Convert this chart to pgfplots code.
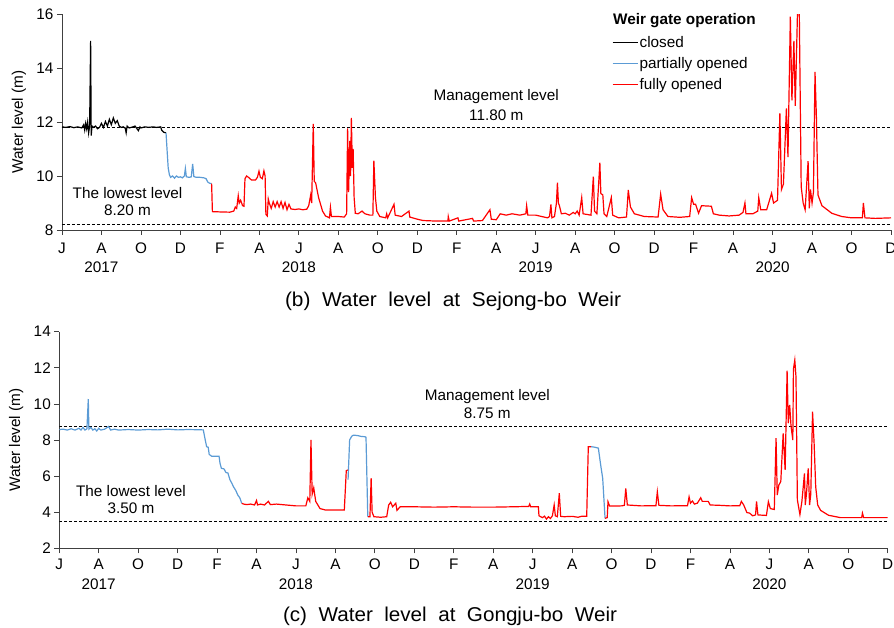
\documentclass[border=0pt]{standalone}
\usepackage{fontspec}
\setmainfont{Liberation Sans}
\usepackage{graphicx}
\usepackage{pgfplots}
\pgfplotsset{compat=1.18}
\definecolor{wblue}{RGB}{91,155,213}
\definecolor{wred}{RGB}{255,0,0}
\newcommand\ff{\fontsize{15.3}{18}\selectfont}
\pgfplotsset{
  myaxis/.style={
    scale only axis,
    xmin=0, xmax=42,
    clip mode=individual,
    axis x line*=bottom, axis y line*=left,
    axis line style={-, black!75, line width=0.8pt},
    xtick={0,2,...,42},
    xticklabels={J,A,O,D,F,A,J,A,O,D,F,A,J,A,O,D,F,A,J,A,O,D},
    tick align=outside, major tick length=5pt,
    tick style={black!75, line width=0.8pt},
    /pgf/number format/assume math mode=true,
    tick label style={font=\ff, text=black},
    ylabel={Water level (m)},
    every axis y label/.style={at={(axis description cs:-0.052,0.5)}, rotate=90, anchor=center},
    label style={font=\ff, text=black},
  },
  mgmt/.style={black, line width=1pt, dash pattern=on 3pt off 2pt, forget plot},
}
\begin{document}
\begin{tikzpicture}
\path[use as bounding box] (0,0) rectangle (894pt,627pt);
% ---------------- (b) Sejong-bo
\begin{axis}[myaxis,
  at={(62pt,397pt)}, anchor=south west, width=829pt, height=216pt,
  ymin=8, ymax=16, ytick={8,10,...,16},
  xticklabel style={yshift=-4pt},
  legend style={at={(axis cs:27.85,15.23)}, anchor=north west, draw=none, fill=none,
    font=\ff, row sep=6pt, inner sep=0pt, nodes={inner sep=1.2pt}},
  legend cell align=left,
  legend image code/.code={\draw[#1, line width=1.5pt] (0pt,0pt) -- (25pt,0pt);},
]
\addplot[mgmt] coordinates {(0,11.8) (42,11.8)};
\addplot[mgmt] coordinates {(0,8.2) (42,8.2)};
\addplot[black, line width=1.2pt] coordinates {
(0,11.82) (0.2,11.8) (0.4,11.83) (0.6,11.79) (0.8,11.82) (1.0,11.78) (1.1,11.9) (1.15,11.7) (1.2,11.95) (1.25,11.75) (1.3,12.0) (1.35,11.6) (1.4,11.85) (1.45,15.0) (1.48,11.5) (1.52,11.85) (1.6,11.8) (1.7,11.85) (1.8,11.75) (1.9,11.8) (2.0,11.95) (2.1,11.8) (2.2,12.02) (2.3,11.85) (2.4,12.1) (2.5,11.9) (2.6,12.15) (2.7,11.95) (2.8,12.05) (2.9,11.85) (3.0,11.8) (3.1,11.82) (3.2,11.78) (3.25,11.6) (3.3,11.85) (3.4,11.78) (3.5,11.8) (3.6,11.82) (3.7,11.85) (3.8,11.75) (3.87,11.68) (3.95,11.82) (4.0,11.78) (4.1,11.8) (4.2,11.82) (4.4,11.8) (4.6,11.82) (4.8,11.8) (5.0,11.82) (5.05,11.7) (5.15,11.62) (5.27,11.6)};
\addlegendentry{closed}
\addplot[wblue, line width=1.2pt] coordinates {
(5.27,11.6) (5.32,11.0) (5.38,10.3) (5.44,10.05) (5.5,9.95) (5.6,10.0) (5.7,9.92) (5.8,10.0) (5.9,9.95) (6.0,9.97) (6.1,9.93) (6.2,10.0) (6.25,10.28) (6.3,9.97) (6.45,9.95) (6.55,9.97) (6.62,10.45) (6.68,9.98) (6.8,9.95) (7.0,9.95) (7.2,9.93) (7.3,9.9) (7.38,9.78) (7.48,9.73) (7.58,9.72)};
\addlegendentry{partially opened}
\addplot[wred, line width=1.2pt] coordinates {
(7.58,9.72) (7.62,8.68) (8.0,8.67) (8.5,8.66) (8.7,8.7) (8.78,8.85) (8.85,8.8) (8.93,9.27) (8.98,9.0) (9.05,9.1) (9.15,8.9) (9.22,8.88) (9.27,9.9) (9.35,10.0) (9.45,9.95) (9.6,9.85) (9.8,9.85) (9.9,9.95) (9.98,10.18) (10.05,9.95) (10.15,9.9) (10.23,10.19) (10.29,10.0) (10.33,8.58) (10.4,8.52) (10.45,9.15) (10.5,9.0) (10.6,8.8) (10.7,9.05) (10.8,8.85) (10.9,9.05) (11.0,8.85) (11.1,9.05) (11.2,8.8) (11.3,9.02) (11.4,8.75) (11.5,8.95) (11.6,8.78) (11.8,8.76) (12.0,8.78) (12.2,8.75) (12.4,8.77) (12.5,8.9) (12.6,9.3) (12.65,9.0) (12.73,11.93) (12.78,9.8) (12.85,9.75) (13.0,9.2) (13.2,8.7) (13.35,8.52) (13.55,8.45) (13.6,8.84) (13.65,8.5) (14.0,8.5) (14.3,8.48) (14.42,8.6) (14.47,11.76) (14.52,9.4) (14.58,11.3) (14.62,10.0) (14.66,12.15) (14.71,10.3) (14.75,11.0) (14.8,9.2) (14.86,8.62) (15.0,8.6) (15.2,8.7) (15.35,8.6) (15.6,8.55) (15.75,8.55) (15.8,10.57) (15.88,9.2) (15.95,8.7) (16.1,8.5) (16.4,8.45) (16.45,8.6) (16.5,8.45) (16.82,8.95) (16.88,8.55) (17.2,8.5) (17.58,8.7) (17.62,8.48) (18.0,8.4) (18.3,8.35) (19.0,8.33) (19.55,8.33) (19.57,8.5) (19.62,8.33) (20.06,8.45) (20.1,8.33) (20.8,8.43) (20.85,8.33) (21.3,8.35) (21.68,8.75) (21.75,8.4) (22.0,8.38) (22.2,8.6) (22.5,8.55) (22.8,8.6) (23.2,8.55) (23.5,8.6) (23.54,8.9) (23.6,8.55) (24.0,8.55) (24.3,8.5) (24.6,8.45) (24.7,8.5) (24.77,8.95) (24.82,8.45) (24.95,8.5) (25.05,9.0) (25.1,9.75) (25.15,9.0) (25.2,8.9) (25.3,8.6) (25.5,8.62) (25.7,8.55) (25.9,8.65) (26.0,8.6) (26.1,8.7) (26.2,8.55) (26.33,9.2) (26.4,8.6) (26.8,8.55) (26.92,9.98) (26.98,8.7) (27.1,8.6) (27.25,10.49) (27.3,9.35) (27.4,9.3) (27.46,8.6) (27.6,8.5) (27.83,9.2) (27.9,8.55) (28.2,8.45) (28.6,8.48) (28.69,9.48) (28.8,8.85) (29.0,8.6) (29.5,8.5) (30.2,8.48) (30.33,9.33) (30.45,8.75) (30.7,8.5) (31.3,8.47) (31.8,8.5) (31.9,9.2) (32.0,8.95) (32.1,8.95) (32.25,8.62) (32.4,8.9) (32.9,8.88) (33.0,8.6) (33.3,8.55) (33.8,8.52) (34.3,8.55) (34.5,8.65) (34.6,9.0) (34.65,8.6) (35.0,8.6) (35.25,8.7) (35.3,9.2) (35.4,8.75) (35.7,8.75) (35.95,9.36) (36.05,9.0) (36.25,9.1) (36.37,12.33) (36.45,9.5) (36.55,9.7) (36.7,12.5) (36.78,10.7) (36.9,15.9) (36.98,12.8) (37.08,15.0) (37.15,12.6) (37.27,16.3) (37.35,16.3) (37.45,9.6) (37.55,9.0) (37.65,8.75) (37.8,10.55) (37.86,8.8) (37.92,9.5) (38.0,9.0) (38.07,9.4) (38.15,13.86) (38.22,12.2) (38.3,9.3) (38.5,8.9) (39.0,8.62) (39.5,8.5) (40.0,8.45) (40.55,8.45) (40.6,9.0) (40.68,8.45) (41.2,8.43) (42.0,8.45)};
\addlegendentry{fully opened}
\node[anchor=west, font=\ff\bfseries, inner sep=0pt] at (axis cs:27.91,15.75) {Weir gate operation};
\node[font=\ff] at (axis cs:22,12.94) {Management level};
\node[font=\ff] at (axis cs:22,12.26) {11.80 m};
\node[font=\ff] at (axis cs:3.32,9.36) {The lowest level};
\node[font=\ff] at (axis cs:3.32,8.74) {8.20 m};
\node[font=\ff, anchor=base] at (axis cs:2,8) [yshift=-43pt] {2017};
\node[font=\ff, anchor=base] at (axis cs:12,8) [yshift=-43pt] {2018};
\node[font=\ff, anchor=base] at (axis cs:24,8) [yshift=-43pt] {2019};
\node[font=\ff, anchor=base] at (axis cs:36,8) [yshift=-43pt] {2020};
\end{axis}
% ---------------- (c) Gongju-bo
\begin{axis}[myaxis,
  at={(59.3pt,78.7pt)}, anchor=south west, width=828.4pt, height=216.6pt,
  ymin=2, ymax=14, ytick={2,4,...,14},
  xticklabel style={yshift=-2pt},
]
\addplot[mgmt] coordinates {(0,8.75) (42,8.75)};
\addplot[mgmt] coordinates {(0,3.5) (42,3.5)};
\addplot[wblue, line width=1.2pt] coordinates {
(0,8.58) (0.2,8.6) (0.4,8.55) (0.6,8.62) (0.8,8.55) (1.0,8.65) (1.1,8.55) (1.2,8.7) (1.3,8.55) (1.4,8.62) (1.47,10.27) (1.5,8.6) (1.6,8.7) (1.7,8.55) (1.8,8.62) (1.9,8.5) (2.0,8.65) (2.1,8.55) (2.3,8.6) (2.5,8.75) (2.6,8.55) (2.8,8.6) (3.0,8.55) (3.5,8.58) (4.0,8.55) (4.5,8.58) (5.0,8.56) (5.5,8.6) (6.0,8.56) (6.5,8.58) (7.0,8.57) (7.3,8.56) (7.4,8.0) (7.47,7.63) (7.55,7.6) (7.6,7.2) (7.73,7.1) (8.1,7.1) (8.15,6.7) (8.22,6.43) (8.35,6.4) (8.45,6.2) (8.55,6.17) (8.65,5.8) (8.75,5.6) (8.83,5.41) (8.95,5.2) (9.05,4.95) (9.15,4.8) (9.25,4.49)};
\addplot[wred, line width=1.2pt] coordinates {
(9.25,4.49) (9.35,4.45) (9.5,4.42) (9.7,4.45) (9.9,4.4) (10.0,4.65) (10.05,4.4) (10.2,4.45) (10.4,4.4) (10.6,4.6) (10.7,4.42) (11.0,4.45) (11.5,4.4) (12.0,4.35) (12.5,4.35) (12.6,4.8) (12.7,4.6) (12.76,8.0) (12.82,5.0) (12.9,5.35) (13.0,4.6) (13.22,4.2) (13.5,4.12) (14.0,4.12) (14.45,4.12) (14.55,6.3) (14.64,6.34)};
\addplot[wblue, line width=1.2pt] coordinates {
(14.64,5.8) (14.72,8.0) (14.82,8.2) (14.91,8.27) (15.1,8.25) (15.3,8.2) (15.5,8.18) (15.55,8.15) (15.64,3.75)};
\addplot[wred, line width=1.2pt] coordinates {
(15.64,3.75) (15.75,3.75) (15.81,5.88) (15.86,4.0) (15.95,3.75) (16.3,3.72) (16.6,3.75) (16.7,4.4) (16.8,4.55) (16.9,4.3) (17.06,4.5) (17.12,4.1) (17.28,4.3) (17.5,4.3) (18,4.3) (19,4.28) (20,4.3) (21,4.28) (22.0,4.28) (23.0,4.3) (23.8,4.32) (23.85,4.45) (23.9,4.3) (24.29,4.3) (24.32,3.8) (24.5,3.7) (24.6,3.78) (24.7,3.62) (24.8,3.75) (24.9,3.65) (25.0,3.8) (25.09,4.4) (25.15,3.8) (25.25,3.75) (25.35,5.05) (25.42,3.77) (25.6,3.75) (26.0,3.77) (26.3,3.72) (26.5,3.78) (26.74,3.77) (26.82,7.63) (26.96,7.63)};
\addplot[wblue, line width=1.2pt] coordinates {
(26.96,7.63) (27.15,7.6) (27.33,7.55) (27.45,6.6) (27.55,5.88) (27.67,3.66)};
\addplot[wred, line width=1.2pt] coordinates {
(27.67,3.66) (27.78,3.7) (27.82,4.58) (27.9,4.34) (28.5,4.35) (28.65,4.38) (28.72,5.32) (28.8,4.4) (29.5,4.35) (30.25,4.36) (30.32,5.13) (30.4,4.38) (31.0,4.35) (31.85,4.36) (31.93,4.85) (32.0,4.5) (32.1,4.62) (32.2,4.45) (32.35,4.5) (32.52,4.8) (32.6,4.6) (32.9,4.6) (33.0,4.4) (33.5,4.38) (34.0,4.35) (34.5,4.36) (34.58,4.6) (34.7,4.4) (34.86,3.98) (35.0,3.95) (35.15,3.8) (35.3,3.85) (35.35,4.6) (35.42,3.85) (35.85,3.82) (35.95,4.58) (36.05,4.2) (36.25,4.15) (36.34,8.1) (36.4,4.95) (36.48,5.5) (36.58,5.7) (36.7,8.37) (36.8,6.34) (36.9,11.84) (36.96,8.93) (37.03,9.94) (37.1,8.75) (37.19,8.0) (37.22,11.92) (37.29,12.43) (37.35,11.5) (37.42,4.68) (37.55,3.87) (37.65,4.6) (37.78,6.15) (37.82,4.4) (37.88,5.0) (37.97,6.43) (38.04,4.4) (38.1,5.0) (38.19,9.57) (38.27,7.8) (38.35,5.4) (38.45,4.4) (38.6,4.1) (39.0,3.83) (39.6,3.7) (40.68,3.7) (40.72,3.95) (40.78,3.7) (42.0,3.7)};
\node[font=\ff] at (axis cs:21.7,10.4) {Management level};
\node[font=\ff] at (axis cs:21.7,9.48) {8.75 m};
\node[font=\ff] at (axis cs:3.63,5.17) {The lowest level};
\node[font=\ff] at (axis cs:3.63,4.22) {3.50 m};
\node[font=\ff, anchor=base] at (axis cs:2,2) [yshift=-41pt] {2017};
\node[font=\ff, anchor=base] at (axis cs:12,2) [yshift=-41pt] {2018};
\node[font=\ff, anchor=base] at (axis cs:24,2) [yshift=-41pt] {2019};
\node[font=\ff, anchor=base] at (axis cs:36,2) [yshift=-41pt] {2020};
\end{axis}
\node[anchor=base, inner sep=0pt] at (453pt,320.3pt) {\resizebox{336pt}{\height}{\fontsize{20}{24}\selectfont (b)\ \ Water\ \ level\ \ at\ \ Sejong-bo\ \ Weir}};
\node[anchor=base, inner sep=0pt] at (450pt,6pt) {\resizebox{334pt}{\height}{\fontsize{20}{24}\selectfont (c)\ \ Water\ \ level\ \ at\ \ Gongju-bo\ \ Weir}};
\end{tikzpicture}
\end{document}
